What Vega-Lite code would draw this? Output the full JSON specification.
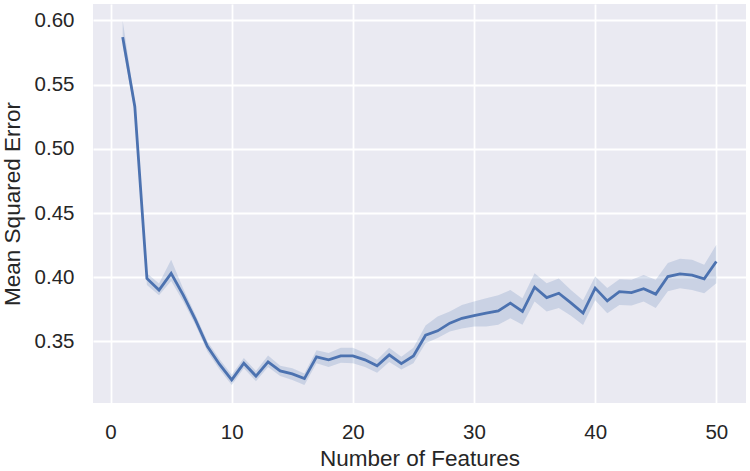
{
  "$schema": "https://vega.github.io/schema/vega-lite/v6.json",
  "width": 653,
  "height": 399,
  "autosize": {"type": "none"},
  "padding": {"left": 93, "top": 4, "right": 4, "bottom": 68},
  "background": "white",
  "config": {
    "view": {"fill": "#EAEAF2", "stroke": null},
    "font": "Liberation Sans",
    "axis": {
      "domain": false,
      "ticks": false,
      "grid": true,
      "gridColor": "white",
      "gridWidth": 1.8,
      "labelFont": "Liberation Sans",
      "labelFontSize": 20.5,
      "labelColor": "#262626",
      "titleFont": "Liberation Sans",
      "titleFontSize": 22.5,
      "titleFontWeight": "normal",
      "titleColor": "#262626",
      "labelPadding": 19
    }
  },
  "data": {
    "values": [
      {"n": 1, "mse": 0.587, "lo": 0.580, "hi": 0.600},
      {"n": 2, "mse": 0.533, "lo": 0.528, "hi": 0.537},
      {"n": 3, "mse": 0.399, "lo": 0.394, "hi": 0.403},
      {"n": 4, "mse": 0.390, "lo": 0.386, "hi": 0.395},
      {"n": 5, "mse": 0.403, "lo": 0.397, "hi": 0.4135},
      {"n": 6, "mse": 0.386, "lo": 0.381, "hi": 0.391},
      {"n": 7, "mse": 0.367, "lo": 0.363, "hi": 0.371},
      {"n": 8, "mse": 0.346, "lo": 0.342, "hi": 0.350},
      {"n": 9, "mse": 0.332, "lo": 0.328, "hi": 0.336},
      {"n": 10, "mse": 0.320, "lo": 0.316, "hi": 0.324},
      {"n": 11, "mse": 0.333, "lo": 0.329, "hi": 0.337},
      {"n": 12, "mse": 0.323, "lo": 0.319, "hi": 0.327},
      {"n": 13, "mse": 0.334, "lo": 0.330, "hi": 0.339},
      {"n": 14, "mse": 0.327, "lo": 0.323, "hi": 0.331},
      {"n": 15, "mse": 0.3247, "lo": 0.320, "hi": 0.329},
      {"n": 16, "mse": 0.321, "lo": 0.316, "hi": 0.325},
      {"n": 17, "mse": 0.338, "lo": 0.333, "hi": 0.343},
      {"n": 18, "mse": 0.3356, "lo": 0.330, "hi": 0.341},
      {"n": 19, "mse": 0.3387, "lo": 0.3333, "hi": 0.345},
      {"n": 20, "mse": 0.3387, "lo": 0.333, "hi": 0.345},
      {"n": 21, "mse": 0.3356, "lo": 0.330, "hi": 0.341},
      {"n": 22, "mse": 0.331, "lo": 0.3255, "hi": 0.3357},
      {"n": 23, "mse": 0.3395, "lo": 0.334, "hi": 0.345},
      {"n": 24, "mse": 0.3327, "lo": 0.328, "hi": 0.338},
      {"n": 25, "mse": 0.3387, "lo": 0.333, "hi": 0.345},
      {"n": 26, "mse": 0.3548, "lo": 0.3486, "hi": 0.3623},
      {"n": 27, "mse": 0.3582, "lo": 0.3527, "hi": 0.3693},
      {"n": 28, "mse": 0.3642, "lo": 0.3576, "hi": 0.3733},
      {"n": 29, "mse": 0.368, "lo": 0.360, "hi": 0.3784},
      {"n": 30, "mse": 0.370, "lo": 0.3615, "hi": 0.381},
      {"n": 31, "mse": 0.372, "lo": 0.3615, "hi": 0.3836},
      {"n": 32, "mse": 0.3738, "lo": 0.363, "hi": 0.386},
      {"n": 33, "mse": 0.3798, "lo": 0.368, "hi": 0.390},
      {"n": 34, "mse": 0.3733, "lo": 0.363, "hi": 0.3836},
      {"n": 35, "mse": 0.3922, "lo": 0.381, "hi": 0.403},
      {"n": 36, "mse": 0.3841, "lo": 0.3733, "hi": 0.3953},
      {"n": 37, "mse": 0.3875, "lo": 0.376, "hi": 0.399},
      {"n": 38, "mse": 0.380, "lo": 0.370, "hi": 0.390},
      {"n": 39, "mse": 0.372, "lo": 0.3627, "hi": 0.382},
      {"n": 40, "mse": 0.3915, "lo": 0.382, "hi": 0.4005},
      {"n": 41, "mse": 0.3815, "lo": 0.372, "hi": 0.3915},
      {"n": 42, "mse": 0.3888, "lo": 0.3784, "hi": 0.3984},
      {"n": 43, "mse": 0.388, "lo": 0.378, "hi": 0.398},
      {"n": 44, "mse": 0.391, "lo": 0.381, "hi": 0.4018},
      {"n": 45, "mse": 0.3868, "lo": 0.376, "hi": 0.398},
      {"n": 46, "mse": 0.4005, "lo": 0.389, "hi": 0.411},
      {"n": 47, "mse": 0.4026, "lo": 0.3914, "hi": 0.4143},
      {"n": 48, "mse": 0.4016, "lo": 0.390, "hi": 0.4135},
      {"n": 49, "mse": 0.3987, "lo": 0.3875, "hi": 0.4096},
      {"n": 50, "mse": 0.4122, "lo": 0.3952, "hi": 0.4252}
    ]
  },
  "encoding": {
    "x": {
      "field": "n",
      "type": "quantitative",
      "scale": {"domain": [-1.45, 52.45], "nice": false, "zero": false},
      "axis": {"values": [0, 10, 20, 30, 40, 50], "title": "Number of Features", "titlePadding": 5}
    }
  },
  "layer": [
    {
      "mark": {"type": "area", "color": "#4C72B0", "opacity": 0.2},
      "encoding": {
        "y": {
          "field": "lo",
          "type": "quantitative",
          "scale": {"domain": [0.302, 0.6128], "nice": false, "zero": false},
          "axis": {"values": [0.35, 0.4, 0.45, 0.5, 0.55, 0.6], "format": ".2f", "title": "Mean Squared Error", "titlePadding": 10}
        },
        "y2": {"field": "hi"}
      }
    },
    {
      "mark": {"type": "line", "color": "#4C72B0", "strokeWidth": 2.8},
      "encoding": {
        "y": {"field": "mse", "type": "quantitative"}
      }
    }
  ]
}
